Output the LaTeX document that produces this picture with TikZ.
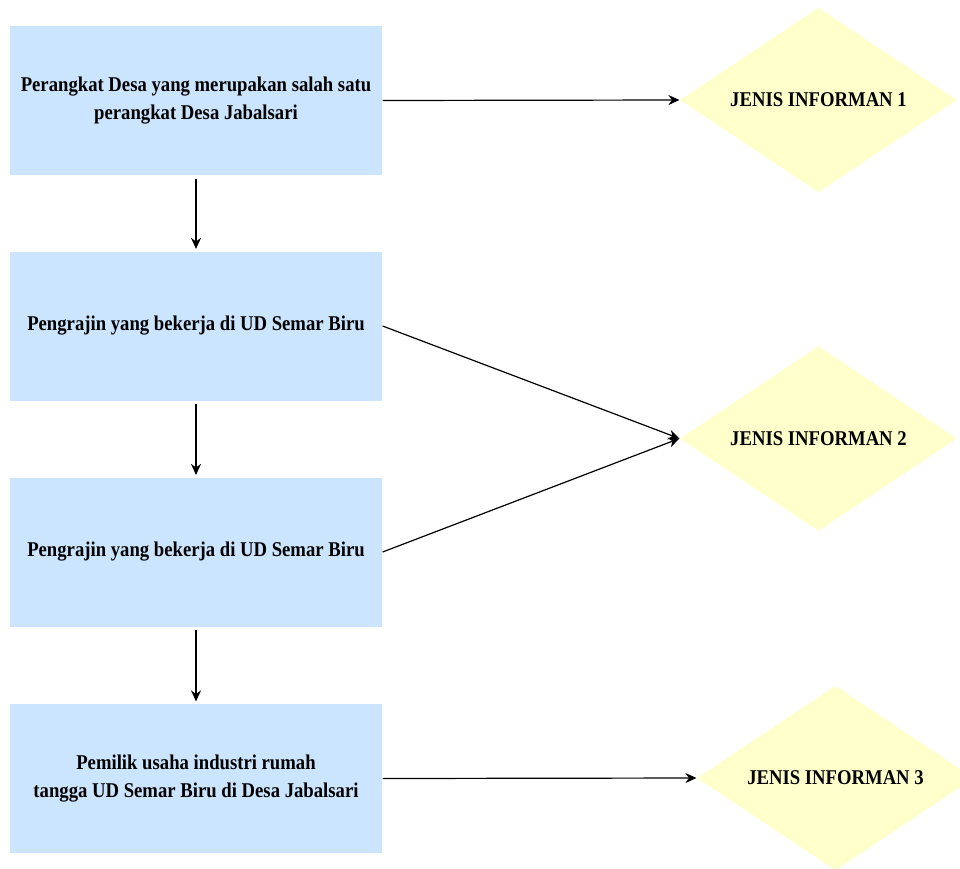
\documentclass[tikz,border=0pt]{standalone}
\usepackage{fontspec}
\setmainfont{Liberation Serif}[FakeStretch=0.89]
\usepackage{tikz}
\usetikzlibrary{graphs}
\usetikzlibrary{arrows.meta}
\usetikzlibrary{shapes.geometric}
\definecolor{boxblue}{RGB}{204,229,255}
\definecolor{infoyellow}{RGB}{255,255,204}
\tikzset{
  box/.style= {fill=boxblue, minimum width=372pt, minimum height=149pt, align=center, inner sep=0},
  info/.style= {diamond, aspect=1.5, fill=infoyellow, minimum width=277pt, minimum height=185pt, inner sep=0},
}

\begin{document}
\begin{tikzpicture}[x=1pt, y=-1pt, >={Stealth[length=11pt, width=10pt]}, line width=1.2pt,
  every node/.style={font=\bfseries\fontsize{21}{28}\selectfont}]
  \useasboundingbox (0,0) rectangle (960,868);
  \node [box] (b1) at (196,100.5) {Perangkat Desa yang merupakan salah satu\\perangkat Desa Jabalsari} ;
  \node [box] (b2) at (196,326) {Pengrajin yang bekerja di UD Semar Biru} ;
  \node [box] (b3) at (196,552) {Pengrajin yang bekerja di UD Semar Biru} ;
  \node [box] (b4) at (196,778.5) {Pemilik usaha industri rumah\\tangga UD Semar Biru di Desa Jabalsari} ;
  \node [info] (d1) at (818.5,100) {JENIS INFORMAN 1} ;
  \node [info] (d2) at (818.5,438.5) {JENIS INFORMAN 2} ;
  \node [info] (d3) at (835.5,778) {JENIS INFORMAN 3} ;

  \graph [edges={shorten <=3pt, shorten >=2pt}] {
    (b1) -> (b2) -> (b3) -> (b4) ;
  } ;
  \draw [->] (b1.east) -- (d1.west) ;
  \draw [->] (b2.east) -- (d2.west) ;
  \draw [->] (b3.east) -- (d2.west) ;
  \draw [->] (b4.east) -- (d3.west) ;
\end{tikzpicture}
\end{document}
